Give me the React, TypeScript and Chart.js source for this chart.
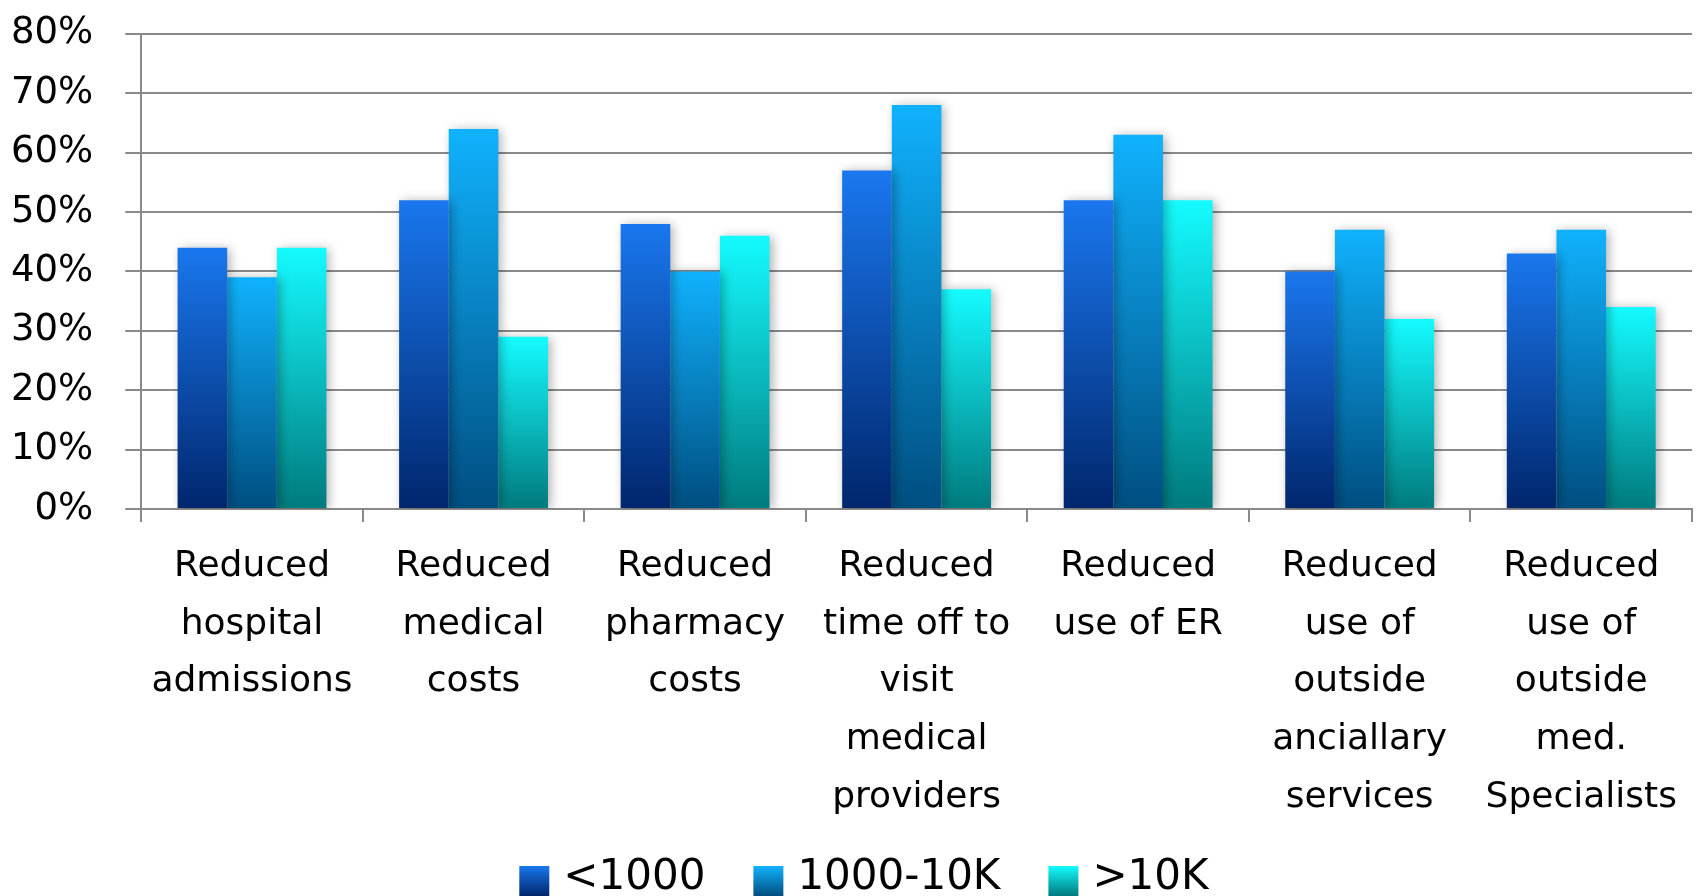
import { useEffect, useRef } from "react";
import { Chart, registerables } from "chart.js";

Chart.register(...registerables);

// Survey categories (each entry is a multi-line axis label)
const categories: string[][] = [
  ["Reduced", "hospital", "admissions"],
  ["Reduced", "medical", "costs"],
  ["Reduced", "pharmacy", "costs"],
  ["Reduced", "time off to", "visit", "medical", "providers"],
  ["Reduced", "use of ER"],
  ["Reduced", "use of", "outside", "anciallary", "services"],
  ["Reduced", "use of", "outside", "med.", "Specialists"],
];

const seriesNames = ["<1000", "1000-10K", ">10K"];

// Percent of respondents, by employer size
const under1000 = [44, 52, 48, 57, 52, 40, 43];
const from1000to10K = [39, 64, 40, 68, 63, 47, 47];
const over10K = [44, 29, 46, 37, 52, 32, 34];

const yMin = 0;
const yMax = 80;
const yStep = 10;

// Top (light) and bottom (dark) colours of each series' vertical gradient
const seriesGradients: [string, string][] = [
  ["#1a77ee", "#00266c"],
  ["#10b2fd", "#004e80"],
  ["#14fbff", "#007a7e"],
];

const GRID = "#8a8a8a";
const TEXT_FONT = "'DejaVu Sans', Verdana, sans-serif";

// Legend styling
const LEGEND = {
  fontSize: 42,
  boxW: 30,
  boxH: 30,
  textGap: 14,
  itemGap: 48,
  centerFrac: 0.5094,
  baselineFromBottom: 7,
};

function barFill(index: number) {
  return (ctx: any) => {
    const [top, bottom] = seriesGradients[index];
    const chart = ctx.chart;
    const y = chart.scales?.y;
    if (!chart.chartArea || !y || ctx.type !== "data") return top;
    const yTop = y.getPixelForValue(ctx.raw as number);
    const yBottom = y.getPixelForValue(0);
    const g = chart.ctx.createLinearGradient(0, yTop, 0, yBottom);
    g.addColorStop(0, top);
    g.addColorStop(1, bottom);
    return g;
  };
}

// Soft drop shadow behind the bars
const barShadow = {
  id: "barShadow",
  beforeDatasetsDraw(chart: any) {
    const c = chart.ctx;
    c.save();
    c.shadowColor = "rgba(0,0,0,0.30)";
    c.shadowBlur = 10;
    c.shadowOffsetX = 3;
    c.shadowOffsetY = 1;
  },
  afterDatasetsDraw(chart: any) {
    chart.ctx.restore();
  },
};

// Legend row along the bottom, with gradient swatches
const bottomLegend = {
  id: "bottomLegend",
  afterDraw(chart: any) {
    const c = chart.ctx as CanvasRenderingContext2D;
    c.save();
    c.font = `${LEGEND.fontSize}px ${TEXT_FONT}`;
    c.textBaseline = "alphabetic";
    const items = chart.data.datasets.map((ds: any, i: number) => ({
      text: String(ds.label),
      w: c.measureText(String(ds.label)).width,
      i,
    }));
    const total =
      items.reduce(
        (s: number, it: any) => s + LEGEND.boxW + LEGEND.textGap + it.w,
        0
      ) +
      LEGEND.itemGap * (items.length - 1);
    let x = chart.width * LEGEND.centerFrac - total / 2;
    const boxTop = chart.height - LEGEND.boxH;
    const baseline = chart.height - LEGEND.baselineFromBottom;
    for (const it of items) {
      const g = c.createLinearGradient(0, boxTop, 0, boxTop + LEGEND.boxH);
      g.addColorStop(0, seriesGradients[it.i][0]);
      g.addColorStop(1, seriesGradients[it.i][1]);
      c.fillStyle = g;
      c.fillRect(x, boxTop, LEGEND.boxW, LEGEND.boxH);
      x += LEGEND.boxW + LEGEND.textGap;
      c.fillStyle = "#000";
      c.fillText(it.text, x, baseline);
      x += it.w + LEGEND.itemGap;
    }
    c.restore();
  },
};

export default function App() {
  const canvasRef = useRef<HTMLCanvasElement | null>(null);

  useEffect(() => {
    const canvas = canvasRef.current;
    if (!canvas) return;
    const values = [under1000, from1000to10K, over10K];

    const chart = new Chart(canvas, {
      type: "bar",
      data: {
        labels: categories,
        datasets: values.map((data, i) => ({
          label: seriesNames[i],
          data,
          backgroundColor: barFill(i),
          borderWidth: 0,
          barPercentage: 1.0,
          categoryPercentage: 0.672,
        })),
      },
      options: {
        animation: false,
        responsive: true,
        maintainAspectRatio: false,
        layout: { padding: { left: -21, right: 4, top: 33, bottom: 54 } },
        plugins: {
          tooltip: { enabled: false },
          legend: { display: false },
        },
        scales: {
          x: {
            grid: {
              offset: true,
              drawOnChartArea: false,
              drawTicks: true,
              tickLength: 13,
              color: GRID,
              lineWidth: 2,
            },
            border: { display: true, color: GRID, width: 2 },
            ticks: {
              color: "#000",
              font: { family: TEXT_FONT, size: 36, lineHeight: 1.6 },
              maxRotation: 0,
              autoSkip: false,
              padding: 16,
            },
          },
          y: {
            min: yMin,
            max: yMax,
            grid: { color: GRID, lineWidth: 2, tickLength: 16 },
            border: { display: true, color: GRID, width: 2 },
            ticks: {
              stepSize: yStep,
              color: "#000",
              // single-line labels: a tight line box keeps the plot top free
              font: { family: TEXT_FONT, size: 37, lineHeight: 0.1 },
              padding: 32,
              callback: (v: any) => `${v}%`,
            },
          },
        },
      },
      plugins: [barShadow, bottomLegend],
    });

    return () => chart.destroy();
  }, []);

  return (
    <div
      style={{
        position: "fixed",
        left: 0,
        top: 0,
        width: 1696,
        height: 896,
        background: "#fff",
      }}
    >
      <canvas ref={canvasRef} />
    </div>
  );
}
